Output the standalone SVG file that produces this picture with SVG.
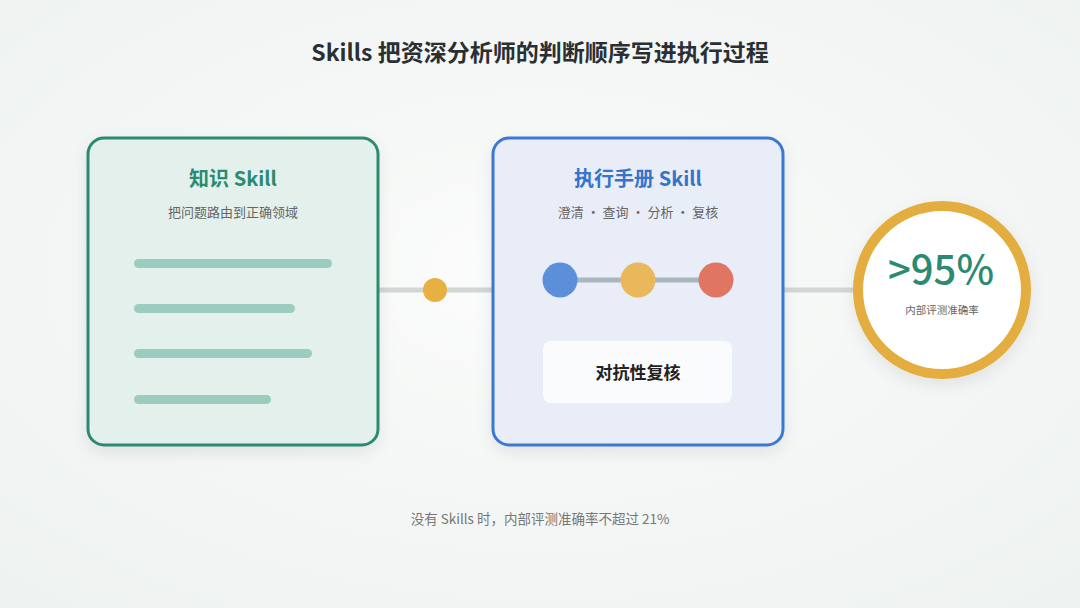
<svg xmlns="http://www.w3.org/2000/svg" width="1080" height="608" viewBox="0 0 1080 608">
<defs>
<radialGradient id="bg" cx="50%" cy="45%" r="70%">
<stop offset="0" stop-color="#fbfcfb"/>
<stop offset="1" stop-color="#eef2f0"/>
</radialGradient>
<filter id="sh" x="-20%" y="-20%" width="140%" height="140%">
<feDropShadow dx="0" dy="6" stdDeviation="8" flood-color="#000" flood-opacity="0.08"/>
</filter>
<style>
text{font-family:"Noto Sans CJK SC","Noto Sans",sans-serif;text-anchor:middle}
.title{font-size:23px;font-weight:600;fill:#2a2f33}
.ct{font-size:20px;font-weight:600}
.sub{font-size:13px;fill:#666}
.bar{fill:#9ccbbf}
.conn{stroke:#d2d7d6;stroke-width:5;fill:none}
</style>
</defs>
<rect width="1080" height="608" fill="url(#bg)"/>
<text class="title" x="540" y="61">Skills 把资深分析师的判断顺序写进执行过程</text>

<g id="connectors">
<line class="conn" x1="378" y1="290" x2="493" y2="290"/>
<circle cx="435" cy="290" r="12" fill="#e8b040"/>
<line class="conn" x1="783" y1="290" x2="856" y2="290"/>
</g>

<g id="knowledge">
<rect x="88" y="138" width="290" height="307" rx="16" fill="#e3f0eb" stroke="#2a8a72" stroke-width="3" filter="url(#sh)"/>
<text class="ct" x="233" y="186" fill="#2a8a72">知识 Skill</text>
<text class="sub" x="233" y="217">把问题路由到正确领域</text>
<rect class="bar" x="134" y="259" width="198" height="9" rx="4.5"/>
<rect class="bar" x="134" y="304" width="161" height="9" rx="4.5"/>
<rect class="bar" x="134" y="349" width="178" height="9" rx="4.5"/>
<rect class="bar" x="134" y="395" width="137" height="9" rx="4.5"/>
</g>

<g id="playbook">
<rect x="493" y="138" width="290" height="307" rx="16" fill="#e8edf8" stroke="#3b78d4" stroke-width="3" filter="url(#sh)"/>
<text class="ct" x="638" y="186" fill="#3574c8">执行手册 Skill</text>
<text class="sub" x="638" y="217">澄清 · 查询 · 分析 · 复核</text>
<line x1="560" y1="280" x2="716" y2="280" stroke="#a9b6bd" stroke-width="5"/>
<circle cx="560" cy="280" r="17.5" fill="#5b8fd9"/>
<circle cx="638" cy="280" r="17.5" fill="#e8b85a"/>
<circle cx="716" cy="280" r="17.5" fill="#e07562"/>
<rect x="543" y="341" width="189" height="62" rx="8" fill="#fafbfd"/>
<text x="638" y="379" font-size="17" font-weight="600" fill="#222">对抗性复核</text>
</g>

<g id="result">
<circle cx="942" cy="290" r="84" fill="#fff" stroke="#e3ad3f" stroke-width="10" filter="url(#sh)"/>
<text x="941" y="284" font-size="40" font-weight="500" fill="#2a8a72" font-family="Inter, Liberation Sans, sans-serif">&gt;95%</text>
<text x="942" y="314" font-size="10.5" fill="#666">内部评测准确率</text>
</g>

<text x="540" y="524" font-size="13.5" fill="#777">没有 Skills 时，内部评测准确率不超过 21%</text>
</svg>
